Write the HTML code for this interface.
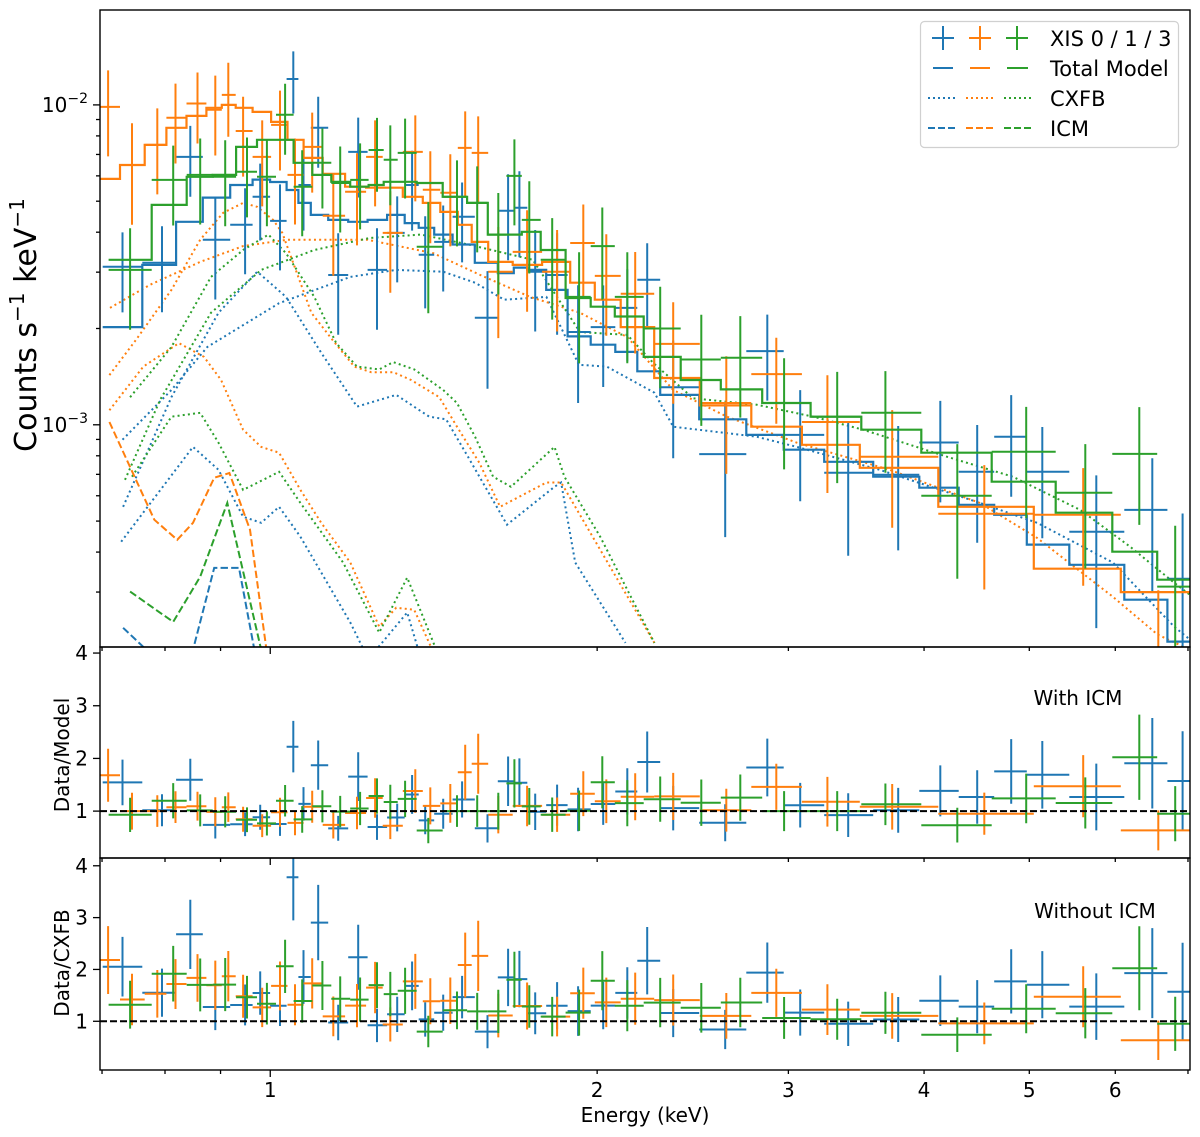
<!DOCTYPE html>
<html><head><meta charset="utf-8"><style>
html,body{margin:0;padding:0;background:#fff;}
svg{display:block;font-family:"DejaVu Sans","Liberation Sans",sans-serif;}
</style></head><body>
<svg id="chart" width="1200" height="1137" viewBox="0 0 1200 1137" xmlns="http://www.w3.org/2000/svg">
<rect x="0" y="0" width="1200" height="1137" fill="#fff"/>
<defs>
<clipPath id="cMain"><rect x="100" y="10" width="1090" height="637"/></clipPath>
<clipPath id="cR1"><rect x="100" y="647" width="1090" height="211"/></clipPath>
<clipPath id="cR2"><rect x="100" y="858" width="1090" height="212"/></clipPath>
</defs>
<g id="main" clip-path="url(#cMain)"></g>
<g id="r1" clip-path="url(#cR1)"></g>
<g id="r2" clip-path="url(#cR2)"></g>
<g id="axes"></g>
<text x="0" y="0" transform="translate(36,325) rotate(-90)" text-anchor="middle" font-size="30">Counts s<tspan dy="-12" font-size="20">−1</tspan><tspan dy="12"> keV</tspan><tspan dy="-12" font-size="20">−1</tspan></text>
<text x="0" y="0" transform="translate(69,755) rotate(-90)" text-anchor="middle" font-size="20">Data/Model</text>
<text x="0" y="0" transform="translate(69,963) rotate(-90)" text-anchor="middle" font-size="20">Data/CXFB</text>
<text x="645" y="1122" text-anchor="middle" font-size="20">Energy (keV)</text>
<text x="1078" y="705" text-anchor="middle" font-size="20">With ICM</text>
<text x="1095" y="918" text-anchor="middle" font-size="20">Without ICM</text>
<g>
<rect x="920.5" y="21.5" width="258" height="126" rx="4" fill="#fff" fill-opacity="0.85" stroke="#d0d0d0" stroke-width="1.2"/>
<g stroke-width="2">
<path d="M932 38H954M943 26V50" stroke="#1f77b4"/><path d="M969 38H991M980 26V50" stroke="#ff7f0e"/><path d="M1006 38H1028M1017 26V50" stroke="#2ca02c"/>
<text x="1050" y="46" font-size="21" stroke="none" fill="#000">XIS 0 / 1 / 3</text></g>
<g stroke-width="2">
<path d="M933 68H953" stroke="#1f77b4"/><path d="M970 68H990" stroke="#ff7f0e"/><path d="M1007 68H1028" stroke="#2ca02c"/>
<text x="1050" y="76" font-size="21" stroke="none" fill="#000">Total Model</text></g>
<g stroke-width="2" stroke-dasharray="2,3">
<path d="M928 98H958" stroke="#1f77b4"/><path d="M966 98H996" stroke="#ff7f0e"/><path d="M1004 98H1034" stroke="#2ca02c"/>
<text x="1050" y="106" font-size="21" stroke="none" fill="#000">CXFB</text></g>
<g stroke-width="2" stroke-dasharray="7,3">
<path d="M928 128H958" stroke="#1f77b4"/><path d="M966 128H996" stroke="#ff7f0e"/><path d="M1004 128H1034" stroke="#2ca02c"/>
<text x="1050" y="136" font-size="21" stroke="none" fill="#000">ICM</text></g>
</g>
</svg>
<script>
// ---- data (counts in units of 1e-3 counts/s/keV) ----
const blueE = [0.731,0.795,0.844,0.890,0.948,0.979,1.021,1.050,1.073,1.107,1.155,1.205,1.254,1.309,1.351,1.389,1.443,1.502,1.585,1.656,1.696,1.754,1.837,1.921,2.026,2.132,2.224,2.350,2.624,2.869,3.076,3.406,3.787,4.140,4.477,4.812,5.140,5.763,6.490,6.92];
const blueCts = [3.12,3.21,6.88,3.79,4.22,5.16,4.34,12.05,5.62,8.48,2.94,7.13,3.05,3.98,5.62,3.40,3.73,4.47,2.16,4.67,4.77,3.01,2.94,1.95,2.02,2.32,2.84,1.31,0.81,1.70,0.93,0.708,0.698,0.88,0.713,0.917,0.713,0.463,0.542,0.33];
const blueErr = [0.28,0.3,0.25,0.35,0.3,0.27,0.3,0.22,0.28,0.25,0.35,0.28,0.35,0.3,0.28,0.32,0.3,0.28,0.4,0.3,0.3,0.35,0.35,0.4,0.35,0.32,0.3,0.4,0.45,0.3,0.38,0.45,0.42,0.35,0.4,0.35,0.38,0.5,0.45,0.6];
const blueModel = [2.02,3.16,4.31,5.13,5.62,5.84,5.74,5.42,4.94,4.53,4.37,4.31,4.37,4.53,4.27,4.13,3.93,3.66,3.21,2.98,3.10,3.05,2.64,1.89,1.78,1.69,1.47,1.24,1.04,0.93,0.836,0.766,0.688,0.636,0.562,0.523,0.422,0.365,0.284,0.21];
const blueCxfb = [1.52,2.07,2.57,2.97,3.21,3.34,3.34,3.19,3.03,2.92,3.01,3.19,3.31,3.51,3.34,3.28,3.20,3.05,2.70,2.53,2.63,2.61,2.26,1.63,1.55,1.50,1.31,1.13,0.963,0.877,0.796,0.744,0.675,0.630,0.556,0.518,0.418,0.361,0.281,0.21];

const orangeE = [0.709,0.746,0.787,0.818,0.857,0.890,0.915,0.944,0.983,1.021,1.054,1.093,1.143,1.202,1.249,1.290,1.360,1.404,1.465,1.512,1.554,1.622,1.724,1.837,1.942,2.039,2.168,2.350,2.630,2.924,3.259,3.739,4.545,5.606,6.573];
const orangeCts = [9.86,6.49,7.50,9.11,10.1,9.65,10.75,8.29,6.88,8.66,6.04,7.39,4.50,5.35,6.88,3.98,7.13,5.43,5.31,7.34,7.08,3.01,3.47,3.01,3.70,2.92,2.57,1.79,1.17,1.44,1.02,0.794,0.527,0.523,0.19];
const orangeErr = [0.3,0.35,0.3,0.28,0.25,0.28,0.26,0.28,0.3,0.28,0.3,0.28,0.35,0.32,0.3,0.35,0.3,0.32,0.32,0.3,0.3,0.38,0.35,0.35,0.32,0.35,0.35,0.35,0.4,0.3,0.4,0.4,0.42,0.4,0.6];
const orangeModel = [5.87,6.49,7.50,8.48,9.24,9.79,10.0,9.79,9.51,8.85,7.78,6.83,6.09,5.55,5.51,5.51,5.16,4.94,4.63,4.22,3.73,3.23,3.16,3.23,2.78,2.46,2.02,1.40,1.15,0.986,0.866,0.734,0.554,0.355,0.30];
const orangeCxfb = [4.52,4.57,4.90,5.30,5.50,5.69,5.75,5.59,5.43,5.15,4.58,4.27,4.11,4.11,4.17,4.24,4.03,3.92,3.80,3.52,3.13,2.71,2.68,2.76,2.40,2.14,1.79,1.27,1.06,0.930,0.833,0.720,0.549,0.355,0.30];

const greenE = [0.743,0.814,0.862,0.909,0.952,0.993,1.032,1.070,1.117,1.160,1.210,1.254,1.290,1.331,1.398,1.486,1.551,1.622,1.678,1.732,1.818,1.925,2.022,2.132,2.286,2.494,2.709,2.973,3.327,3.685,4.292,4.967,5.630,6.313,6.813];
const greenCts = [3.05,5.83,6.04,5.96,6.18,5.96,9.31,5.55,6.59,5.70,5.83,7.23,6.74,7.08,3.60,5.16,4.94,3.93,6.00,4.37,3.28,2.51,3.62,2.51,2.0,1.60,1.62,1.17,1.06,1.09,0.600,0.824,0.613,0.811,0.312];
const greenErr = [0.35,0.28,0.3,0.3,0.28,0.3,0.25,0.3,0.28,0.3,0.3,0.26,0.28,0.28,0.38,0.3,0.3,0.35,0.3,0.32,0.35,0.38,0.32,0.38,0.35,0.38,0.35,0.38,0.38,0.35,0.45,0.38,0.42,0.4,0.55];
const greenModel = [3.28,4.87,5.96,6.04,7.39,7.78,7.78,6.59,6.04,5.75,5.55,5.62,5.75,5.75,5.70,5.16,4.94,3.93,3.93,4.01,3.52,2.49,2.34,2.18,1.63,1.38,1.29,1.17,1.06,0.965,0.818,0.664,0.531,0.401,0.328];
const greenCxfb = [2.31,3.04,3.55,3.49,4.22,4.45,4.52,3.99,3.90,3.97,4.11,4.26,4.42,4.46,4.49,4.26,4.15,3.30,3.33,3.40,3.01,2.15,2.03,1.93,1.47,1.27,1.19,1.10,1.02,0.937,0.810,0.664,0.531,0.401,0.328];

// CXFB component curves (folded), energies in keV, values 1e-3
const blueCxbE = [0.731,0.811,0.875,1.019,1.185,1.306,1.443,1.544,1.642,1.796,1.924,2.041,2.258,2.350,2.807,3.055,3.640,4.502,5.083,5.970,6.797,7.03];
const blueCxbV = [0.898,1.285,1.75,2.40,2.90,3.05,3.01,2.78,2.46,2.51,1.54,1.52,1.26,0.986,0.917,0.853,0.723,0.570,0.494,0.371,0.234,0.213];
const blueHaloE = [0.732,0.811,0.896,0.973,1.034,1.114,1.202,1.306,1.401,1.452,1.521,1.652,1.827,1.853,1.909,2.124];
const blueHaloV = [0.554,1.22,2.24,3.01,2.51,1.68,1.14,1.24,1.06,1.04,0.794,0.487,0.640,0.66,0.371,0.208];
const blueLowE = [0.729,0.849,0.896,0.944,0.981,1.019,1.066,1.185,1.231,1.337,1.377];
const blueLowV = [0.431,0.853,0.723,0.516,0.494,0.554,0.447,0.241,0.185,0.259,0.185];
const blueIcmE = [0.732,0.769,0.849,0.888,0.936,0.967];
const blueIcmV = [0.232,0.198,0.198,0.357,0.357,0.198];

const orangeCxbE = [0.712,0.775,0.862,0.944,1.037,1.228,1.413,1.561,1.735,1.928,2.132,2.350,2.634,3.055,3.718,4.502,5.083,5.970,6.562,7.03];
const orangeCxbV = [2.32,2.74,3.23,3.62,3.79,3.79,3.44,2.94,2.51,2.24,1.88,1.285,1.06,0.879,0.723,0.570,0.443,0.290,0.221,0.198];
const orangeHaloE = [0.711,0.753,0.811,0.862,0.905,0.944,0.973,1.006,1.026,1.091,1.140,1.195,1.239,1.298,1.348,1.431,1.486,1.558,1.628,1.796,1.853,2.013,2.258];
const orangeHaloV = [1.43,1.85,2.64,3.79,4.60,4.94,4.80,4.37,3.98,2.24,1.85,1.52,1.46,1.46,1.38,1.22,0.986,0.76,0.554,0.66,0.66,0.407,0.208];
const orangeLowE = [0.711,0.764,0.824,0.869,0.901,0.944,0.981,1.019,1.066,1.114,1.185,1.260,1.306,1.357,1.410];
const orangeLowV = [1.11,1.52,1.80,1.63,1.38,0.965,0.853,0.818,0.626,0.494,0.371,0.234,0.268,0.264,0.198];
const orangeIcmE = [0.711,0.782,0.821,0.849,0.888,0.917,0.958,0.992];
const orangeIcmV = [1.02,0.505,0.437,0.494,0.683,0.707,0.47,0.198];

const greenCxbE = [0.735,0.792,0.882,0.981,1.098,1.236,1.377,1.528,1.745,1.928,2.132,2.253,2.452,2.807,3.163,3.515,4.201,4.828,5.570,6.190,6.797,7.03];
const greenCxbV = [0.673,1.20,2.24,3.05,3.52,3.84,3.93,3.65,3.28,1.95,1.91,1.56,1.21,1.155,1.06,0.965,0.794,0.688,0.542,0.416,0.321,0.294];
const greenHaloE = [0.743,0.811,0.882,0.944,0.996,1.034,1.098,1.150,1.202,1.260,1.298,1.357,1.443,1.486,1.544,1.604,1.666,1.827,1.866,2.013,2.258];
const greenHaloV = [1.22,1.75,2.90,3.52,3.93,3.44,2.51,1.80,1.52,1.49,1.57,1.49,1.285,1.17,0.917,0.688,0.640,0.853,0.688,0.447,0.208];
const greenLowE = [0.746,0.811,0.862,0.896,0.944,1.019,1.066,1.167,1.260,1.337,1.422];
const greenLowV = [0.688,1.06,1.09,0.879,0.626,0.713,0.570,0.371,0.224,0.333,0.198];
const greenIcmE = [0.743,0.814,0.862,0.913,0.981];
const greenIcmV = [0.301,0.242,0.335,0.570,0.198];

const xTickVals = [1,2,3,4,5,6];
const xTickLabels = ["1","2","3","4","5","6"];
const ratioTicks = [1,2,3,4];

// ---- axes functions ----
const X0=100, X1=1190, EMIN=0.697, EMAX=7.03;
function xs(e){return X0+(Math.log10(e)-Math.log10(EMIN))/(Math.log10(EMAX)-Math.log10(EMIN))*(X1-X0);}
const YT=10, YB=647, VMIN=2.02e-4, VMAX=1.98e-2;
function ys(v){return YB-(Math.log10(v)-Math.log10(VMIN))/(Math.log10(VMAX)-Math.log10(VMIN))*(YB-YT);}
function ysv(v){return ys(v*1e-3);}
const R1T=647,R1B=858,R1MIN=0.11,R1MAX=4.115;
function yr1(r){return R1B-(r-R1MIN)/(R1MAX-R1MIN)*(R1B-R1T);}
const R2T=858,R2B=1070,R2MIN=0.06,R2MAX=4.15;
function yr2(r){return R2B-(r-R2MIN)/(R2MAX-R2MIN)*(R2B-R2T);}

const NS="http://www.w3.org/2000/svg";
function mk(tag,parent,attrs){const el=document.createElementNS(NS,tag);for(const k in attrs)el.setAttribute(k,attrs[k]);parent.appendChild(el);return el;}
function edges(E){const lo=[],hi=[];for(let i=0;i<E.length;i++){const p=i>0?Math.sqrt(E[i-1]*E[i]):E[i]*E[i]/Math.sqrt(E[i]*E[i+1]);const n=i<E.length-1?Math.sqrt(E[i]*E[i+1]):E[i]*E[i]/Math.sqrt(E[i-1]*E[i]);lo.push(p);hi.push(n);}return [lo,hi];}

const gMain=document.getElementById('main'),gR1=document.getElementById('r1'),gR2=document.getElementById('r2'),gAx=document.getElementById('axes');

function curve(parent,E,V,color,dash,name){
  let d='';for(let i=0;i<E.length;i++){d+=(i?'L':'M')+xs(E[i]).toFixed(1)+' '+ysv(V[i]).toFixed(1);}
  const p=mk('path',parent,{d:d,fill:'none',stroke:color,'stroke-width':2,'stroke-dasharray':dash});
  
  
}
function series(E,C,Er,M,Cx,color,key){
  const [lo,hi]=edges(E);
  let d='';
  for(let i=0;i<E.length;i++){const y=ysv(M[i]).toFixed(1);d+=(i?'L':'M')+xs(lo[i]).toFixed(1)+' '+y+'L'+xs(hi[i]).toFixed(1)+' '+y;}
  const st=mk('path',gMain,{d:d,fill:'none',stroke:color,'stroke-width':2.2});
  
  
  const gd=mk('g',gMain,{stroke:color,'stroke-width':2});
  
  
  const g1=mk('g',gR1,{stroke:color,'stroke-width':2});
  
  
  const g2=mk('g',gR2,{stroke:color,'stroke-width':2});
  
  
  for(let i=0;i<E.length;i++){
    const x=xs(E[i]),xl=xs(lo[i]),xh=xs(hi[i]);
    const c=C[i],e=C[i]*Er[i];
    const y=ysv(c),yu=ysv(c+e),yd=c-e>0.01?ysv(c-e):YB+50;
    const p=mk('path',gd,{d:`M${xl.toFixed(1)} ${y.toFixed(1)}H${xh.toFixed(1)}M${x.toFixed(1)} ${yu.toFixed(1)}V${yd.toFixed(1)}`});
    
    
    const r=c/M[i],re=e/M[i];
    const q=mk('path',g1,{d:`M${xl.toFixed(1)} ${yr1(r).toFixed(1)}H${xh.toFixed(1)}M${x.toFixed(1)} ${yr1(r+re).toFixed(1)}V${yr1(r-re).toFixed(1)}`});
    
    
    const r2=c/Cx[i],re2=e/Cx[i];
    const s=mk('path',g2,{d:`M${xl.toFixed(1)} ${yr2(r2).toFixed(1)}H${xh.toFixed(1)}M${x.toFixed(1)} ${yr2(r2+re2).toFixed(1)}V${yr2(r2-re2).toFixed(1)}`});
    
    
  }
}
const C0='#1f77b4',C1='#ff7f0e',C2='#2ca02c',DOT='2,3.2',DASH='7.4,3.2';
curve(gMain,blueCxbE,blueCxbV,C0,DOT,'xis0-cxb-curve');
curve(gMain,blueHaloE,blueHaloV,C0,DOT,'xis0-halo-curve');
curve(gMain,blueLowE,blueLowV,C0,DOT,'xis0-lhb-curve');
curve(gMain,orangeCxbE,orangeCxbV,C1,DOT,'xis1-cxb-curve');
curve(gMain,orangeHaloE,orangeHaloV,C1,DOT,'xis1-halo-curve');
curve(gMain,orangeLowE,orangeLowV,C1,DOT,'xis1-lhb-curve');
curve(gMain,greenCxbE,greenCxbV,C2,DOT,'xis3-cxb-curve');
curve(gMain,greenHaloE,greenHaloV,C2,DOT,'xis3-halo-curve');
curve(gMain,greenLowE,greenLowV,C2,DOT,'xis3-lhb-curve');
curve(gMain,blueIcmE,blueIcmV,C0,DASH,'xis0-icm-curve');
curve(gMain,orangeIcmE,orangeIcmV,C1,DASH,'xis1-icm-curve');
curve(gMain,greenIcmE,greenIcmV,C2,DASH,'xis3-icm-curve');
series(blueE,blueCts,blueErr,blueModel,blueCxfb,C0,'xis0');
series(orangeE,orangeCts,orangeErr,orangeModel,orangeCxfb,C1,'xis1');
series(greenE,greenCts,greenErr,greenModel,greenCxfb,C2,'xis3');

const u1=mk('line',gR1,{x1:100,x2:1190,y1:yr1(1),y2:yr1(1),stroke:'#000','stroke-width':2,'stroke-dasharray':'7,3'});


const u2=mk('line',gR2,{x1:100,x2:1190,y1:yr2(1),y2:yr2(1),stroke:'#000','stroke-width':2,'stroke-dasharray':'7,3'});



[[10,647],[647,858],[858,1070]].forEach((b,i)=>{
  const r=mk('rect',gAx,{x:100,y:b[0],width:1090,height:b[1]-b[0],fill:'none',stroke:'#000','stroke-width':1.4});
  
  
  for(let k=7;k<=70;k++){
    let e; if(k<10) e=k/10; else if(k%10===0) e=k/10; else continue;
    if(e<EMIN||e>EMAX) continue;
    const x=xs(e),len=(e===1)?7:4;
    const t=mk('line',gAx,{x1:x,x2:x,y1:b[1],y2:b[1]+len,stroke:'#000','stroke-width':1.3});
    
    
  }
});
xTickVals.forEach((v,i)=>{
  const t=mk('text',gAx,{x:xs(v),y:1097,'text-anchor':'middle','font-size':20});
  t.textContent=xTickLabels[i];
  
  
});
for(let dec=-4;dec<=-2;dec++){for(let m=1;m<=9;m++){const v=m*Math.pow(10,dec);if(v<VMIN||v>VMAX)continue;const y=ys(v);
  const t=mk('line',gAx,{x1:100,x2:100-(m===1?7:4),y1:y,y2:y,stroke:'#000','stroke-width':1.3});
  
  
  if(m===1){const tx=mk('text',gAx,{x:88,y:y+7,'text-anchor':'end','font-size':20});
    tx.innerHTML='10<tspan dy="-9" font-size="14">−'+(-dec)+'</tspan>';
    
    }
}}
ratioTicks.forEach(v=>{
  [yr1(v),yr2(v)].forEach(y=>{
    const t=mk('line',gAx,{x1:100,x2:93,y1:y,y2:y,stroke:'#000','stroke-width':1.3});
    
    
    const tx=mk('text',gAx,{x:88,y:y+7,'text-anchor':'end','font-size':20});
    tx.textContent=String(v);
    
    
  });
});
</script>
</body></html>
